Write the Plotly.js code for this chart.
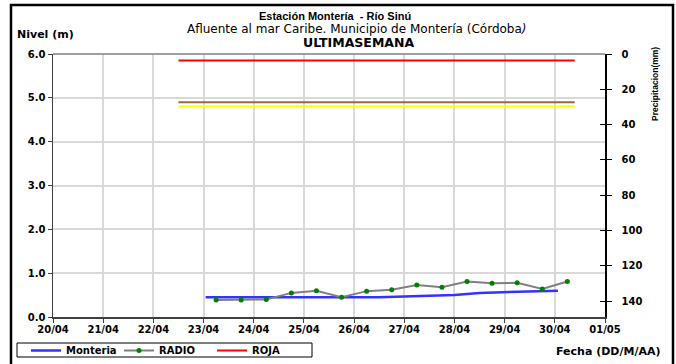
<!DOCTYPE html>
<html>
<head>
<meta charset="utf-8">
<script src="https://cdn.plot.ly/plotly-3.0.1.min.js"></script>
<style>html,body{margin:0;padding:0;background:#fff;}#chart{width:676px;height:364px;}</style>
</head>
<body>
<div id="chart"></div>
<script>
// Monteria level (m)
const montTimes = ['2013-04-23 01:00','2013-04-23 12:00','2013-04-24 00:00','2013-04-24 12:00','2013-04-25 00:00','2013-04-25 12:00','2013-04-26 00:00','2013-04-26 12:00','2013-04-27 00:00','2013-04-27 12:00','2013-04-28 00:00','2013-04-28 12:00','2013-04-29 00:00','2013-04-29 12:00','2013-04-30 01:30'];
const montLevels = [0.45,0.45,0.44,0.44,0.44,0.45,0.45,0.45,0.47,0.49,0.50,0.55,0.57,0.59,0.60];
// RADIO readings (m)
const radioTimes = ['2013-04-23 06:00','2013-04-23 18:00','2013-04-24 06:00','2013-04-24 18:00','2013-04-25 06:00','2013-04-25 18:00','2013-04-26 06:00','2013-04-26 18:00','2013-04-27 06:00','2013-04-27 18:00','2013-04-28 06:00','2013-04-28 18:00','2013-04-29 06:00','2013-04-29 18:00','2013-04-30 06:00'];
const radioLevels = [0.39,0.39,0.40,0.55,0.60,0.45,0.59,0.62,0.73,0.68,0.81,0.77,0.78,0.64,0.81];
// Alert thresholds (m)
const thrTimes = ['2013-04-22 12:00','2013-04-30 09:30'];
const roja = [5.85,5.85];
const naranja = [4.9,4.9];
const amarilla = [4.8,4.8];
// Precipitation (mm): no values recorded in the week
const precipTimes = ['2013-04-20'];
const precipValues = [null];
// Axes
const xRange = ['2013-04-20','2013-05-01'];
const levelRange = [0,6];
const precipRange = [149,0];

const W = 676, H = 364, L = 53, R = 71, T = 54, B = 47;
const pw = W - L - R, ph = H - T - B;
const px = v => (v - L) / pw;
const py = v => (H - B - v) / ph;

const tickFont = {family:'DejaVu Sans', size:10, color:'#000', weight:'bold'};

const traces = [
  {x: montTimes, y: montLevels, name:'Monteria', type:'scatter', mode:'lines',
   line:{color:'#3333ff', width:2.5}},
  {x: radioTimes, y: radioLevels, name:'RADIO', type:'scatter', mode:'lines+markers',
   line:{color:'#808080', width:2}, marker:{color:'#008000', size:5}},
  {x: thrTimes, y: roja, name:'ROJA', type:'scatter', mode:'lines',
   line:{color:'#ff0000', width:2}},
  {x: thrTimes, y: naranja, name:'NARANJA', type:'scatter', mode:'lines', showlegend:false,
   line:{color:'#a0673c', width:2}},
  {x: thrTimes, y: amarilla, name:'AMARILLA', type:'scatter', mode:'lines', showlegend:false,
   line:{color:'#ffff00', width:2}},
  {x: precipTimes, y: precipValues, name:'Precipitacion', type:'scatter', mode:'lines', yaxis:'y2', showlegend:false},
  {x: precipTimes, y: precipValues, name:'Precipitacion', type:'scatter', mode:'lines', yaxis:'y3', showlegend:false}
];

const layout = {
  width: W, height: H,
  margin: {l:L, r:R, t:T, b:B, pad:0, autoexpand:false},
  paper_bgcolor:'#fff', plot_bgcolor:'#fff',
  showlegend: true,
  xaxis: {
    type:'date', range: xRange, dtick: 86400000, tick0:'2013-04-20', tickformat:'%d/%m',
    showgrid:true, gridcolor:'#d9d9d9', gridwidth:2,
    showline:true, linecolor:'#404040', linewidth:1.5,
    ticks:'outside', ticklen:4, tickcolor:'#404040', tickfont: tickFont,
    ticklabelstandoff: -2,
    zeroline:false, fixedrange:true
  },
  yaxis: {
    range: levelRange, dtick:1, tickformat:'.1f',
    showgrid:true, gridcolor:'#d9d9d9', gridwidth:2,
    showline:true, linecolor:'#404040', linewidth:1.5,
    ticks:'outside', ticklen:4, tickcolor:'#404040', tickfont: tickFont,
    zeroline:false, fixedrange:true
  },
  yaxis2: {
    overlaying:'y', side:'right', anchor:'x', range: precipRange, dtick:20,
    showgrid:false, zeroline:false,
    showline:true, linecolor:'#000', linewidth:1.5,
    ticks:'outside', ticklen:5, tickcolor:'#000', tickfont: tickFont,
    ticklabelstandoff: 8, fixedrange:true
  },
  yaxis3: {
    overlaying:'y', side:'right', anchor:'x', range: precipRange, dtick:20,
    showgrid:false, zeroline:false, showline:false,
    ticks:'inside', ticklen:5, tickcolor:'#000', showticklabels:false, fixedrange:true
  },
  legend: {
    orientation:'h', x: px(26), y: py(336), xanchor:'left', yanchor:'top',
    borderwidth:0, bgcolor:'rgba(0,0,0,0)',
    font:{family:'DejaVu Sans', size:10, color:'#000', weight:'bold'},
    entrywidth: 48, itemwidth: 30
  },
  shapes: [
    {type:'rect', xref:'paper', yref:'paper', x0: px(11), x1: px(673), y0: py(368), y1: py(5),
     line:{color:'#000', width:2.5}, fillcolor:'rgba(0,0,0,0)'},
    {type:'line', xref:'paper', yref:'paper', x0:0, x1:1, y0:1, y1:1,
     line:{color:'#808080', width:1.5}},
    {type:'rect', xref:'paper', yref:'paper', x0: px(17), x1: px(312), y0: py(357), y1: py(343),
     line:{color:'#000', width:1}, fillcolor:'rgba(0,0,0,0)'}
  ],
  annotations: [
    {xref:'paper', yref:'paper', x: px(335), y: py(16), xanchor:'center', yanchor:'middle', showarrow:false,
     text:'<b>Estación Montería  - Río Sinú</b>', font:{family:'Liberation Sans', size:11, color:'#000'}},
    {xref:'paper', yref:'paper', x: px(357), y: py(29), xanchor:'center', yanchor:'middle', showarrow:false,
     text:'Afluente al mar Caribe. Municipio de Montería (Córdoba<i>)</i>', font:{family:'DejaVu Sans', size:12, color:'#000'}},
    {xref:'paper', yref:'paper', x: px(358), y: py(42), xanchor:'center', yanchor:'middle', showarrow:false,
     text:'<b>ULTIMASEMANA</b>', font:{family:'DejaVu Sans', size:12.5, color:'#000'}},
    {xref:'paper', yref:'paper', x: px(15), y: py(35), xanchor:'left', yanchor:'middle', showarrow:false,
     text:'<b>Nivel (m)</b>', font:{family:'DejaVu Sans', size:11, color:'#000'}},
    {xref:'paper', yref:'paper', x: px(662), y: py(351), xanchor:'right', yanchor:'middle', showarrow:false,
     text:'<b>Fecha (DD/M/AA)</b>', font:{family:'DejaVu Sans', size:11, color:'#000'}},
    {xref:'paper', yref:'paper', x: px(655), y: py(84), xanchor:'center', yanchor:'middle', showarrow:false, textangle:-90,
     text:'<b>Precipitacion(mm)</b>', font:{family:'Liberation Sans', size:8.5, color:'#000'}}
  ]
};

Plotly.newPlot('chart', traces, layout, {staticPlot:true, displayModeBar:false});
</script>
</body>
</html>
